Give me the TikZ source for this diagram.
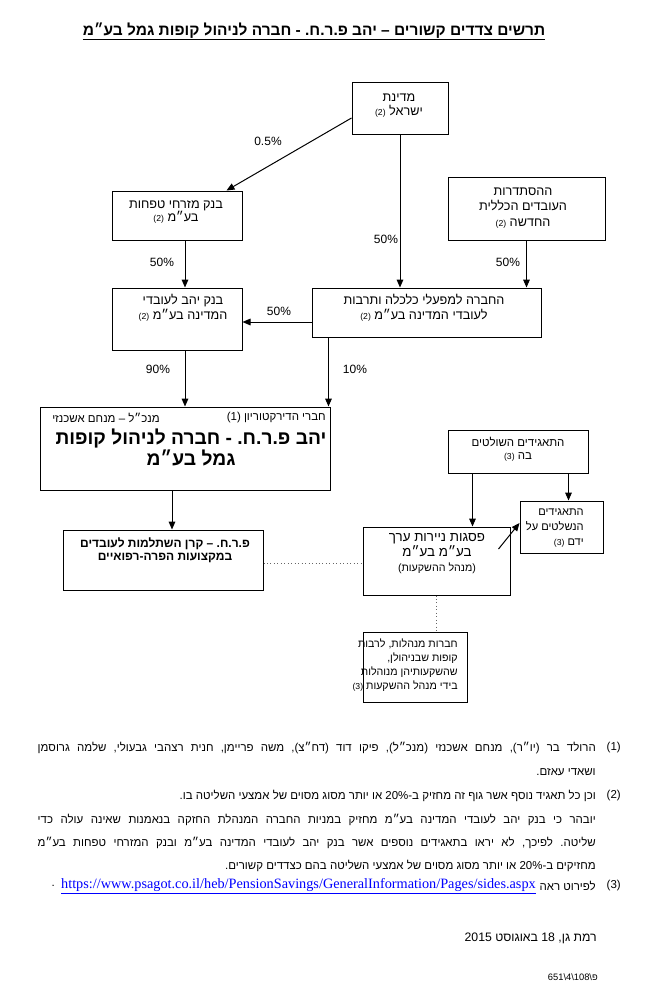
\documentclass[tikz,border=0pt]{standalone}
\usepackage{fontspec}
\setmainfont{Liberation Sans}[Script=Hebrew]
\newfontfamily\urlfont{Liberation Serif}
\TeXXeTstate=1
\frenchspacing
\usetikzlibrary{arrows.meta,fit,calc}
\newcommand\RL[1]{\beginR #1\endR}
\newcommand\fs[2]{\fontsize{#1}{#2}\selectfont}
\newcommand\fnm[1]{{\fontsize{6.5}{7}\selectfont #1}}
\tikzset{
 box/.style={draw, line width=0.75pt, inner sep=0pt},
 arr/.style={-{Triangle[length=6pt,width=5pt]}, line width=0.75pt},
 dotl/.style={dotted, line width=0.6pt, black!60},
 txt/.style={inner sep=0pt, align=center, font=\fs{9}{11}},
 pct/.style={inner sep=0pt, font=\fs{9}{11}},
 foot/.style={inner sep=0pt, anchor=east, font=\fs{8.6}{10}},
}
\begin{document}
\begin{tikzpicture}[x=0.75pt,y=-0.75pt]
\fill[white] (0,0) rectangle (645,989);
\useasboundingbox (0,0) rectangle (645,989);

% title
\node[inner sep=0pt, font=\bfseries\fs{11.6}{13}] (title) at (314,31) {\RL{תרשים צדדים קשורים – יהב פ.ר.ח. - חברה לניהול קופות גמל בע״מ}};
\draw[line width=0.8pt] ([yshift=-2.4pt]title.base west) -- ([yshift=-2.4pt]title.base east);

% boxes
\node[box, fit={(352,82)(448,134)}] (medina) {};
\node[box, fit={(112,191)(242,240)}] (mizrahi) {};
\node[box, fit={(448,177)(605,240)}] (histadrut) {};
\node[box, fit={(112,288)(242,350)}] (yahav) {};
\node[box, fit={(312,288)(541,337)}] (hevra) {};
\node[box, fit={(40,407)(330,490)}] (main) {};
\node[box, fit={(63,530)(263,590)}] (prah) {};
\node[box, fit={(448,430)(588,473)}] (sholtim) {};
\node[box, fit={(520,501)(603,553)}] (nishlatim) {};
\node[box, fit={(363,527)(510,595)}] (psagot) {};
\node[box, fit={(363,632)(467,702)}] (menahalot) {};

% box texts
\node[txt, font=\fs{9.5}{10}] (medtxt) at (399,105.5) {\RL{מדינת}\\\RL{ישראל \fnm{(2)}}};
\node[txt, font=\fs{9.5}{10}] (mizrtxt) at (176,212) {\RL{בנק מזרחי טפחות}\\\RL{בע״מ \fnm{(2)}}};
\node[txt, font=\fs{9.5}{11.5}] (histtxt) at (523,208) {\RL{ההסתדרות}\\\RL{העובדים הכללית}\\\RL{החדשה \fnm{(2)}}};
\node[txt, font=\fs{9.5}{11}] (yahtxt) at (183,308) {\RL{בנק יהב לעובדי}\\\RL{המדינה בע״מ \fnm{(2)}}};
\node[txt, font=\fs{9.5}{11}] (hevtxt) at (424,308) {\RL{החברה למפעלי כלכלה ותרבות}\\\RL{לעובדי המדינה בע״מ \fnm{(2)}}};
\node[inner sep=0pt, anchor=east, font=\fs{8.6}{9}] (dirs) at (326,418) {\RL{חברי הדירקטוריון (1)}};
\node[inner sep=0pt, anchor=west, font=\fs{8.6}{9}] (ceo) at (52,418) {\RL{מנכ״ל – מנחם אשכנזי}};
\node[txt, font=\bfseries\fs{14.4}{16}] (maintxt) at (191,447.5) {\RL{יהב פ.ר.ח. - חברה לניהול קופות}\\\RL{גמל בע״מ}};
\node[txt, font=\bfseries\fs{9}{10}] (prahtxt) at (165,550.5) {\RL{פ.ר.ח. – קרן השתלמות לעובדים}\\\RL{במקצועות הפרה-רפואיים}};
\node[txt, font=\fs{8.6}{10}] (sholtxt) at (518,449.5) {\RL{התאגידים השולטים}\\\RL{בה \fnm{(3)}}};
\node[txt, align=right, anchor=north east, font=\fs{8.3}{11}] (nishtxt) at (584,509) {\RL{התאגידים}\\\RL{הנשלטים על}\\\RL{ידם \fnm{(3)}}};
\node[txt, font=\fs{10}{11.5}] (psagtxt) at (437,553.5) {\RL{פסגות ניירות ערך}\\\RL{בע״מ בע״מ}\\{\fs{8}{10}\RL{(מנהל ההשקעות)}}};
\node[txt, align=right, anchor=north east, font=\fs{8}{10.5}] (menatxt) at (458,639) {\RL{חברות מנהלות, לרבות}\\\RL{קופות שבניהולן,}\\\RL{שהשקעותיהן מנוהלות}\\\RL{בידי מנהל ההשקעות \fnm{(3)}}};

% connectors
\draw[arr] ($(medina.west)+(0,10)$) -- ($(mizrahi.north east)+(-16,0)$);
\draw[arr] (medina.south) -- (medina.south |- hevra.north);
\draw[arr] (histadrut.south) -- (histadrut.south |- hevra.north);
\draw[arr] ($(mizrahi.south)+(8,0)$) coordinate (m4) -- (m4 |- yahav.north);
\draw[arr] ($(hevra.west)+(0,9.5)$) coordinate (h5) -- (h5 -| yahav.east);
\draw[arr] ($(yahav.south)+(8,0)$) coordinate (y6) -- (y6 |- main.north);
\draw[arr] ($(hevra.south west)+(17,0)$) coordinate (h7) -- (h7 |- main.north);
\draw[arr] ($(main.south)+(-13,0)$) coordinate (m8) -- (m8 |- prah.north);
\draw[dotl] ($(prah.east)+(0,3)$) coordinate (p9) -- (p9 -| psagot.west);
\draw[arr] ($(sholtim.south west)+(25,0)$) coordinate (s10) -- (s10 |- psagot.north);
\draw[arr] ($(sholtim.south east)+(-20,0)$) coordinate (s11) -- (s11 |- nishlatim.north);
\draw[arr] ($(psagot.east)+(-12,-12)$) -- ($(nishlatim.west)+(0,-4)$);
\draw[dotl] (psagot.south) -- (psagot.south |- menahalot.north);

% percentages
\node[pct] (l1) at (268,141) {0.5\%};
\node[pct] (l2) at (386,239) {50\%};
\node[pct] (l3) at (508,262) {50\%};
\node[pct] (l4) at (162,262) {50\%};
\node[pct] (l5) at (279,311) {50\%};
\node[pct] (l6) at (158,369) {90\%};
\node[pct] (l7) at (355,369) {10\%};

% footnotes
\node[foot] (n1) at (621,748) {(1)};
\node[foot] (n2) at (621,796) {(2)};
\node[foot] (n3) at (621,886) {(3)};
\node[foot] (f1a) at (596,748) {\hbox to 418.5pt{\beginR הרולד בר (יו״ר), מנחם אשכנזי (מנכ״ל), פיקו דוד (דח״צ), משה פריימן, חנית רצהבי גבעולי, שלמה גרוסמן\endR}};
\node[foot] (f1b) at (596,772) {\RL{ושאדי עאזם.}};
\node[foot] (f2) at (596,796) {\RL{וכן כל תאגיד נוסף אשר גוף זה מחזיק ב-20\% או יותר מסוג מסוים של אמצעי השליטה בו.}};
\node[foot] (p1) at (596,820) {\hbox to 418.5pt{\beginR יובהר כי בנק יהב לעובדי המדינה בע״מ מחזיק במניות החברה המנהלת החזקה בנאמנות שאינה עולה כדי\endR}};
\node[foot] (p2) at (596,843) {\hbox to 418.5pt{\beginR שליטה. לפיכך, לא יראו בתאגידים נוספים אשר בנק יהב לעובדי המדינה בע״מ ובנק המזרחי טפחות בע״מ\endR}};
\node[foot] (p3) at (596,866) {\RL{מחזיקים ב-20\% או יותר מסוג מסוים של אמצעי השליטה בהם כצדדים קשורים.}};
\node[foot] (f3) at (596,886) {\RL{לפירוט ראה}};
\node[foot, font=\urlfont\fs{10.7}{12}, text=blue] (url) at (536,886) {\underline{https://www.psagot.co.il/heb/PensionSavings/GeneralInformation/Pages/sides.aspx}};
\node[foot] (dot3) at (55,886) {.};

% date and reference
\node[inner sep=0pt, anchor=east, font=\fs{9.2}{10}] (date) at (597,938) {\RL{רמת גן, 18 באוגוסט 2015}};
\node[inner sep=0pt, anchor=east, font=\fs{7}{8}] (ref) at (598,977) {\RL{פ\textbackslash108\textbackslash4\textbackslash651}};
\end{tikzpicture}
\end{document}
